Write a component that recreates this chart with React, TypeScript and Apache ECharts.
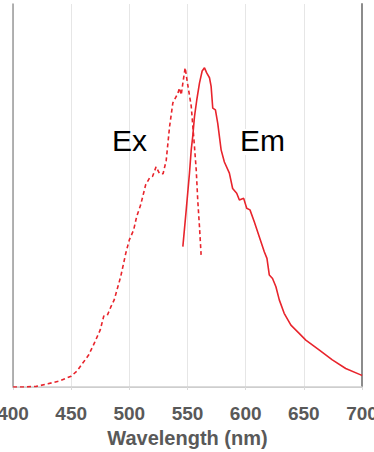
import React, { useEffect, useRef } from "react";
import * as echarts from "echarts";

const xTicks = [400, 450, 500, 550, 600, 650, 700];

const exWavelengths = [400, 410, 420, 430, 440, 450, 455, 460, 465, 470, 475, 478, 481, 484, 487, 492.6, 497, 500, 503.7, 506.3, 509.7, 514, 517.4, 520, 523, 526, 529, 531.7, 534.6, 537.4, 541.7, 543.1, 544.6, 546, 548, 550.3, 553.2, 556, 557.5, 558.8, 560.3, 561.7];
const exValues = [0, 0, 0.002, 0.01, 0.019, 0.034, 0.05, 0.075, 0.1, 0.138, 0.179, 0.222, 0.224, 0.25, 0.273, 0.346, 0.42, 0.461, 0.492, 0.534, 0.57, 0.633, 0.655, 0.66, 0.69, 0.668, 0.668, 0.71, 0.816, 0.89, 0.92, 0.937, 0.915, 0.952, 1.0, 0.945, 0.88, 0.753, 0.68, 0.586, 0.502, 0.414];

const emWavelengths = [546, 548.9, 551.7, 553.2, 554.5, 556, 558, 560.3, 562.6, 564.6, 566.5, 568.9, 570.3, 571.7, 574, 576, 578.9, 581.7, 586, 588.8, 592.3, 594.6, 598.3, 600.9, 603.7, 607.4, 611.7, 616, 618.3, 620.3, 623.1, 626, 628.9, 633.1, 638.9, 646, 651.7, 663.1, 674.5, 686, 698.9, 700];
const emValues = [0.44, 0.555, 0.67, 0.743, 0.785, 0.847, 0.9, 0.952, 0.99, 1.0, 0.984, 0.969, 0.942, 0.874, 0.868, 0.826, 0.743, 0.705, 0.67, 0.622, 0.607, 0.586, 0.591, 0.56, 0.555, 0.518, 0.471, 0.424, 0.403, 0.351, 0.34, 0.314, 0.273, 0.231, 0.194, 0.168, 0.147, 0.116, 0.085, 0.058, 0.038, 0.036];

const labels = ["Ex", "Em"];

const RED = "#e8242c";

export default function App() {
  const ref = useRef<HTMLDivElement>(null);
  useEffect(() => {
    document.body.style.margin = "0";
    if (!ref.current) return;
    const chart = echarts.init(ref.current, null, { renderer: "svg" });
    const exData = exWavelengths.map((w, i) => [w, exValues[i]]);
    const emData = emWavelengths.map((w, i) => [w, emValues[i]]);
    chart.setOption({
      animation: false,
      backgroundColor: "#ffffff",
      grid: { left: 13, right: 12, top: 4, bottom: 65, outerBoundsMode: "none", containLabel: false },
      xAxis: [
        {
          type: "value",
          min: xTicks[0],
          max: xTicks[xTicks.length - 1],
          interval: 50,
          name: "Wavelength (nm)",
          nameLocation: "middle",
          nameGap: 41,
          nameTextStyle: { fontFamily: "Liberation Sans", fontSize: 20, fontWeight: "bold", color: "#595959" },
          axisLine: { show: true, lineStyle: { color: "#c8c8c8", width: 1 } },
          axisTick: { show: true, length: 3, lineStyle: { color: "#d9d9d9" } },
          axisLabel: { fontFamily: "Liberation Sans", fontSize: 19, fontWeight: "bold", color: "#595959", margin: 17 },
          splitLine: { show: true, lineStyle: { color: "#e6e6e6", width: 1 } },
        },
        {
          type: "value",
          position: "top",
          min: xTicks[0],
          max: xTicks[xTicks.length - 1],
          axisLine: { show: true, lineStyle: { color: "#d0d0d0", width: 1.5 } },
          axisTick: { show: false },
          axisLabel: { show: false },
          splitLine: { show: false },
        },
      ],
      yAxis: [
        {
          type: "value",
          min: 0,
          max: 1.2,
          axisLine: { show: true, lineStyle: { color: "#9a9a9a", width: 1.5 } },
          axisTick: { show: false },
          axisLabel: { show: false },
          splitLine: { show: false },
        },
        {
          type: "value",
          position: "right",
          min: 0,
          max: 1.2,
          axisLine: { show: true, lineStyle: { color: "#8c8c8c", width: 2 } },
          axisTick: { show: false },
          axisLabel: { show: false },
          splitLine: { show: false },
        },
      ],
      series: [
        {
          type: "line",
          name: "Ex",
          data: exData,
          showSymbol: false,
          symbol: "none",
          lineStyle: { color: RED, width: 1.6, type: [4, 3] },
          z: 3,
        },
        {
          type: "line",
          name: "Em",
          data: emData,
          showSymbol: false,
          symbol: "none",
          lineStyle: { color: RED, width: 1.6, type: "solid" },
          z: 3,
        },
      ],
      graphic: [
        {
          type: "text",
          left: 112,
          top: 125,
          z: 100,
          style: { text: labels[0], fontFamily: "Liberation Sans", fontSize: 30, fill: "#000000", backgroundColor: "transparent" },
        },
        {
          type: "group",
          left: 238,
          top: 125,
          z: 100,
          children: [
            { type: "rect", shape: { x: 0, y: 4, width: 50, height: 26 }, style: { fill: "#ffffff" }, z: 100 },
            { type: "text", x: 2, y: 0, z: 101, style: { text: labels[1], fontFamily: "Liberation Sans", fontSize: 30, fill: "#000000" } },
          ],
        },
      ],
    });
    return () => chart.dispose();
  }, []);
  return <div ref={ref} style={{ width: 374, height: 452 }} />;
}
